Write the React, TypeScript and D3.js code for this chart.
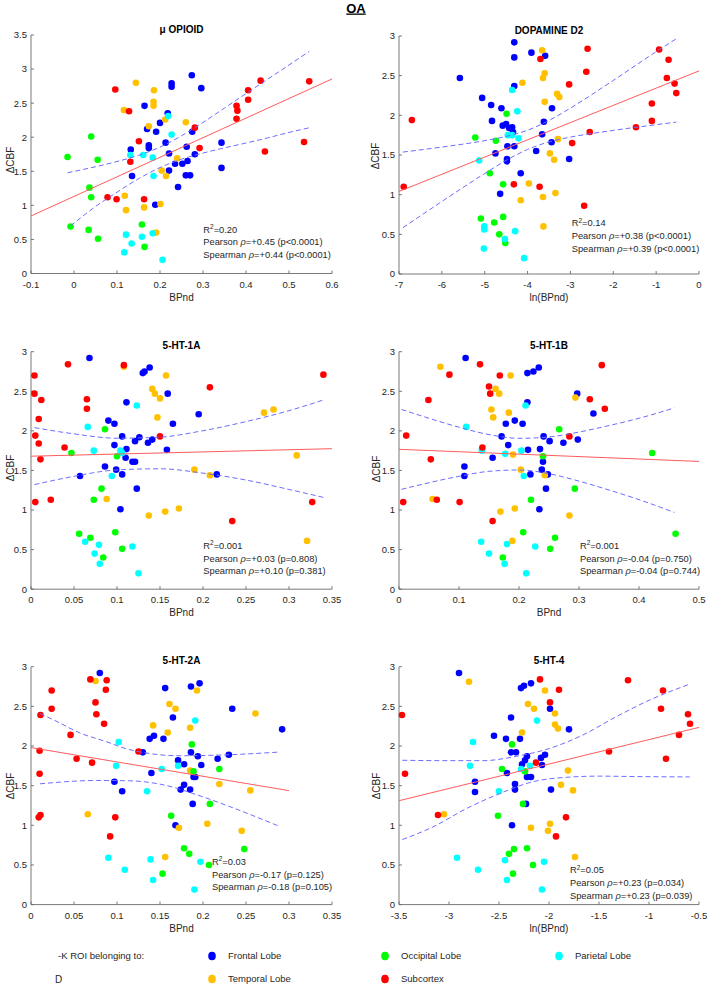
import React from 'react';
import * as d3 from 'd3';

type Pt = [number, number, string];
type XY = [number, number];

// ---------- groups / legend ----------
const groupCodes = ['F', 'T', 'O', 'P', 'S'];
const groupNames = ['Frontal Lobe', 'Temporal Lobe', 'Occipital Lobe', 'Parietal Lobe', 'Subcortex'];
const groupColors = ['#0000ff', '#ffc000', '#00ff00', '#00ffff', '#ff0000'];

// ---------- panel texts ----------
const titles = ['\u03bc OPIOID', 'DOPAMINE D2', '5-HT-1A', '5-HT-1B', '5-HT-2A', '5-HT-4'];
const xLabels = ['BPnd', 'ln(BPnd)', 'BPnd', 'BPnd', 'BPnd', 'ln(BPnd)'];
const r2Values = ['0.20', '0.14', '0.001', '0.001', '0.03', '0.05'];
const pearsonValues = ['+0.45 (p<0.0001)', '+0.38 (p<0.0001)', '+0.03 (p=0.808)', '-0.04 (p=0.750)', '-0.17 (p=0.125)', '+0.23 (p=0.034)'];
const spearmanValues = ['+0.44 (p<0.0001)', '+0.39 (p<0.0001)', '+0.10 (p=0.381)', '-0.04 (p=0.744)', '-0.18 (p=0.105)', '+0.23 (p=0.039)'];

// ---------- axes ----------
const xDomains: XY[] = [[-0.1, 0.6], [-7, 0], [0, 0.35], [0, 0.5], [0, 0.35], [-3.5, -0.5]];
const xTickValues: number[][] = [
  [-0.1, 0, 0.1, 0.2, 0.3, 0.4, 0.5, 0.6],
  [-7, -6, -5, -4, -3, -2, -1, 0],
  [0, 0.05, 0.1, 0.15, 0.2, 0.25, 0.3, 0.35],
  [0, 0.1, 0.2, 0.3, 0.4, 0.5],
  [0, 0.05, 0.1, 0.15, 0.2, 0.25, 0.3, 0.35],
  [-3.5, -3, -2.5, -2, -1.5, -1, -0.5],
];
const yMaxes = [3.5, 3, 3, 3, 3, 3];
const yTicksTall = [0, 0.5, 1, 1.5, 2, 2.5, 3, 3.5];
const yTicksShort = [0, 0.5, 1, 1.5, 2, 2.5, 3];

// ---------- scatter data: [x, ΔCBF, group] ----------
const opioidPts: Pt[] = [
  [0.274, 2.91, 'F'], [0.227, 2.79, 'F'], [0.227, 2.74, 'F'], [0.296, 2.72, 'F'], [0.164, 2.46, 'F'], [0.218, 2.35, 'F'], [0.17, 2.12, 'F'], [0.2, 2.21, 'F'], [0.191, 2.08, 'F'], [0.275, 2.08, 'F'], [0.132, 1.82, 'F'], [0.174, 1.88, 'F'], [0.174, 1.84, 'F'], [0.213, 1.92, 'F'], [0.221, 1.76, 'F'], [0.262, 1.86, 'F'], [0.281, 1.75, 'F'], [0.343, 1.92, 'F'], [0.135, 1.43, 'F'], [0.221, 1.51, 'F'], [0.235, 1.61, 'F'], [0.252, 1.61, 'F'], [0.264, 1.65, 'F'], [0.26, 1.44, 'F'], [0.27, 1.44, 'F'], [0.242, 1.27, 'F'], [0.343, 1.55, 'F'], [0.189, 1.01, 'F'],
  [0.144, 2.8, 'T'], [0.116, 2.4, 'T'], [0.186, 2.69, 'T'], [0.185, 2.52, 'T'], [0.185, 2.46, 'T'], [0.212, 2.26, 'T'], [0.174, 2.16, 'T'], [0.26, 2.22, 'T'], [0.24, 1.69, 'T'], [0.204, 1.51, 'T'], [0.214, 1.43, 'T'], [0.118, 1.14, 'T'], [0.121, 0.93, 'T'], [0.163, 0.97, 'T'], [0.201, 1.02, 'T'], [0.191, 0.6, 'T'],
  [-0.015, 1.71, 'O'], [0.04, 2.01, 'O'], [0.055, 1.67, 'O'], [0.036, 1.26, 'O'], [0.04, 1.12, 'O'], [-0.008, 0.69, 'O'], [0.034, 0.64, 'O'], [0.056, 0.51, 'O'], [0.158, 0.72, 'O'], [0.164, 0.39, 'O'],
  [0.131, 1.74, 'P'], [0.161, 1.74, 'P'], [0.183, 1.7, 'P'], [0.219, 2.31, 'P'], [0.227, 2.04, 'P'], [0.185, 1.43, 'P'], [0.121, 0.57, 'P'], [0.158, 0.54, 'P'], [0.183, 0.59, 'P'], [0.134, 0.44, 'P'], [0.117, 0.31, 'P'], [0.206, 0.2, 'P'],
  [0.096, 2.7, 'S'], [0.128, 2.38, 'S'], [0.151, 1.94, 'S'], [0.131, 1.64, 'S'], [0.078, 1.12, 'S'], [0.099, 1.09, 'S'], [0.163, 1.09, 'S'], [0.281, 2.14, 'S'], [0.292, 1.84, 'S'], [0.378, 2.46, 'S'], [0.38, 2.39, 'S'], [0.378, 2.27, 'S'], [0.405, 2.69, 'S'], [0.405, 2.55, 'S'], [0.434, 2.83, 'S'], [0.444, 1.79, 'S'], [0.535, 1.93, 'S'], [0.547, 2.82, 'S'],
];

const d2Pts: Pt[] = [
  [-4.31, 2.92, 'F'], [-3.91, 2.79, 'F'], [-4.31, 2.73, 'F'], [-3.59, 2.75, 'F'], [-5.58, 2.47, 'F'], [-4.31, 2.37, 'F'], [-5.06, 2.22, 'F'], [-4.85, 2.13, 'F'], [-4.61, 2.09, 'F'], [-3.43, 2.09, 'F'], [-4.83, 1.93, 'F'], [-4.58, 1.87, 'F'], [-4.5, 1.89, 'F'], [-4.43, 1.84, 'F'], [-4.36, 1.85, 'F'], [-4.34, 1.79, 'F'], [-3.62, 1.92, 'F'], [-3.66, 1.76, 'F'], [-3.44, 1.66, 'F'], [-4.75, 1.52, 'F'], [-4.47, 1.61, 'F'], [-4.31, 1.61, 'F'], [-3.8, 1.55, 'F'], [-4.48, 1.45, 'F'], [-4.48, 1.42, 'F'], [-3.03, 1.45, 'F'], [-4.16, 1.27, 'F'], [-4.64, 1.01, 'F'],
  [-3.66, 2.82, 'T'], [-4.12, 2.41, 'T'], [-3.64, 2.47, 'T'], [-3.6, 2.53, 'T'], [-3.6, 2.17, 'T'], [-3.31, 2.27, 'T'], [-3.26, 2.23, 'T'], [-3.29, 1.7, 'T'], [-3.48, 1.52, 'T'], [-3.38, 1.44, 'T'], [-3.97, 1.14, 'T'], [-4.16, 0.93, 'T'], [-3.64, 0.97, 'T'], [-3.35, 1.02, 'T'], [-3.63, 0.6, 'T'],
  [-4.49, 2.02, 'O'], [-5.22, 1.72, 'O'], [-4.74, 1.68, 'O'], [-4.88, 1.27, 'O'], [-4.57, 1.13, 'O'], [-5.09, 0.7, 'O'], [-4.78, 0.65, 'O'], [-4.57, 0.72, 'O'], [-4.66, 0.5, 'O'], [-4.52, 0.39, 'O'],
  [-4.36, 2.32, 'P'], [-4.24, 2.05, 'P'], [-4.46, 1.75, 'P'], [-4.36, 1.75, 'P'], [-4.21, 1.71, 'P'], [-5.13, 1.43, 'P'], [-5.01, 0.6, 'P'], [-5.01, 0.56, 'P'], [-4.53, 0.44, 'P'], [-4.29, 0.54, 'P'], [-5.02, 0.32, 'P'], [-4.08, 0.2, 'P'],
  [-6.89, 1.1, 'S'], [-6.7, 1.94, 'S'], [-3.7, 2.71, 'S'], [-2.6, 2.84, 'S'], [-2.63, 2.55, 'S'], [-3.03, 2.39, 'S'], [-2.96, 1.65, 'S'], [-2.55, 1.79, 'S'], [-4.32, 1.13, 'S'], [-3.72, 1.1, 'S'], [-2.68, 0.86, 'S'], [-1.47, 1.85, 'S'], [-1.1, 1.93, 'S'], [-1.1, 2.15, 'S'], [-0.93, 2.83, 'S'], [-0.71, 2.7, 'S'], [-0.75, 2.47, 'S'], [-0.57, 2.4, 'S'], [-0.53, 2.28, 'S'],
];

const ht1aPts: Pt[] = [
  [0.068, 2.92, 'F'], [0.138, 2.8, 'F'], [0.132, 2.75, 'F'], [0.13, 2.73, 'F'], [0.111, 2.36, 'F'], [0.159, 2.47, 'F'], [0.195, 2.21, 'F'], [0.165, 2.09, 'F'], [0.09, 2.13, 'F'], [0.097, 2.09, 'F'], [0.106, 1.93, 'F'], [0.126, 1.92, 'F'], [0.121, 1.87, 'F'], [0.141, 1.89, 'F'], [0.136, 1.85, 'F'], [0.097, 1.82, 'F'], [0.111, 1.77, 'F'], [0.158, 1.76, 'F'], [0.11, 1.66, 'F'], [0.118, 1.61, 'F'], [0.121, 1.61, 'F'], [0.086, 1.55, 'F'], [0.099, 1.51, 'F'], [0.057, 1.43, 'F'], [0.106, 1.45, 'F'], [0.216, 1.45, 'F'], [0.123, 1.27, 'F'], [0.104, 1.01, 'F'],
  [0.108, 2.81, 'T'], [0.157, 2.7, 'T'], [0.141, 2.53, 'T'], [0.144, 2.47, 'T'], [0.15, 2.41, 'T'], [0.147, 2.17, 'T'], [0.271, 2.23, 'T'], [0.282, 2.27, 'T'], [0.309, 1.69, 'T'], [0.19, 1.51, 'T'], [0.208, 1.44, 'T'], [0.088, 1.14, 'T'], [0.137, 0.93, 'T'], [0.156, 0.98, 'T'], [0.172, 1.02, 'T'], [0.321, 0.61, 'T'],
  [0.086, 2.02, 'O'], [0.047, 1.72, 'O'], [0.1, 1.68, 'O'], [0.082, 1.27, 'O'], [0.073, 1.13, 'O'], [0.056, 0.7, 'O'], [0.069, 0.65, 'O'], [0.098, 0.72, 'O'], [0.106, 0.51, 'O'], [0.084, 0.4, 'O'],
  [0.123, 2.32, 'P'], [0.066, 2.05, 'P'], [0.073, 1.75, 'P'], [0.104, 1.75, 'P'], [0.106, 1.72, 'P'], [0.094, 1.43, 'P'], [0.063, 0.6, 'P'], [0.079, 0.56, 'P'], [0.074, 0.45, 'P'], [0.08, 0.32, 'P'], [0.118, 0.54, 'P'], [0.125, 0.2, 'P'],
  [0.004, 2.7, 'S'], [0.004, 2.47, 'S'], [0.012, 2.39, 'S'], [0.009, 2.15, 'S'], [0.005, 1.94, 'S'], [0.009, 1.84, 'S'], [0.011, 1.64, 'S'], [0.005, 1.1, 'S'], [0.023, 1.13, 'S'], [0.043, 2.84, 'S'], [0.065, 2.4, 'S'], [0.065, 2.28, 'S'], [0.039, 1.79, 'S'], [0.108, 2.83, 'S'], [0.15, 1.93, 'S'], [0.208, 2.55, 'S'], [0.234, 0.86, 'S'], [0.327, 1.1, 'S'], [0.34, 2.71, 'S'],
];

const ht1bPts: Pt[] = [
  [0.111, 2.92, 'F'], [0.233, 2.8, 'F'], [0.224, 2.75, 'F'], [0.214, 2.73, 'F'], [0.214, 2.36, 'F'], [0.297, 2.47, 'F'], [0.324, 2.22, 'F'], [0.178, 2.09, 'F'], [0.193, 2.13, 'F'], [0.206, 2.09, 'F'], [0.171, 1.93, 'F'], [0.241, 1.93, 'F'], [0.251, 1.87, 'F'], [0.274, 1.85, 'F'], [0.298, 1.89, 'F'], [0.182, 1.82, 'F'], [0.235, 1.77, 'F'], [0.215, 1.76, 'F'], [0.156, 1.66, 'F'], [0.24, 1.61, 'F'], [0.238, 1.51, 'F'], [0.109, 1.55, 'F'], [0.109, 1.43, 'F'], [0.219, 1.45, 'F'], [0.248, 1.45, 'F'], [0.245, 1.27, 'F'], [0.234, 1.01, 'F'],
  [0.069, 2.81, 'T'], [0.186, 2.7, 'T'], [0.161, 2.53, 'T'], [0.167, 2.47, 'T'], [0.294, 2.42, 'T'], [0.154, 2.27, 'T'], [0.183, 2.23, 'T'], [0.157, 2.17, 'T'], [0.19, 1.7, 'T'], [0.203, 1.51, 'T'], [0.243, 1.44, 'T'], [0.056, 1.14, 'T'], [0.169, 0.98, 'T'], [0.193, 1.02, 'T'], [0.284, 0.93, 'T'], [0.189, 0.61, 'T'],
  [0.267, 2.02, 'O'], [0.422, 1.72, 'O'], [0.24, 1.68, 'O'], [0.293, 1.27, 'O'], [0.22, 1.13, 'O'], [0.461, 0.7, 'O'], [0.207, 0.72, 'O'], [0.26, 0.65, 'O'], [0.252, 0.51, 'O'], [0.173, 0.4, 'O'],
  [0.211, 2.32, 'P'], [0.112, 2.05, 'P'], [0.138, 1.75, 'P'], [0.204, 1.75, 'P'], [0.177, 1.71, 'P'], [0.208, 1.43, 'P'], [0.137, 0.6, 'P'], [0.18, 0.57, 'P'], [0.15, 0.45, 'P'], [0.227, 0.54, 'P'], [0.176, 0.32, 'P'], [0.212, 0.2, 'P'],
  [0.135, 2.84, 'S'], [0.084, 2.71, 'S'], [0.168, 2.7, 'S'], [0.15, 2.56, 'S'], [0.152, 2.47, 'S'], [0.049, 2.39, 'S'], [0.318, 2.4, 'S'], [0.338, 2.83, 'S'], [0.343, 2.28, 'S'], [0.012, 1.94, 'S'], [0.284, 1.93, 'S'], [0.139, 1.79, 'S'], [0.053, 1.64, 'S'], [0.007, 1.1, 'S'], [0.063, 1.13, 'S'], [0.101, 1.1, 'S'], [0.156, 0.86, 'S'],
];

const ht2aPts: Pt[] = [
  [0.08, 2.92, 'F'], [0.196, 2.79, 'F'], [0.186, 2.75, 'F'], [0.156, 2.73, 'F'], [0.234, 2.47, 'F'], [0.165, 2.36, 'F'], [0.292, 2.21, 'F'], [0.143, 2.13, 'F'], [0.138, 2.09, 'F'], [0.154, 2.09, 'F'], [0.186, 1.92, 'F'], [0.13, 1.92, 'F'], [0.194, 1.87, 'F'], [0.217, 1.84, 'F'], [0.23, 1.89, 'F'], [0.171, 1.82, 'F'], [0.178, 1.77, 'F'], [0.198, 1.76, 'F'], [0.14, 1.66, 'F'], [0.189, 1.61, 'F'], [0.191, 1.61, 'F'], [0.097, 1.55, 'F'], [0.178, 1.51, 'F'], [0.106, 1.43, 'F'], [0.174, 1.45, 'F'], [0.185, 1.45, 'F'], [0.188, 1.27, 'F'], [0.168, 1.0, 'F'],
  [0.075, 2.82, 'T'], [0.193, 2.7, 'T'], [0.161, 2.53, 'T'], [0.168, 2.47, 'T'], [0.261, 2.41, 'T'], [0.142, 2.26, 'T'], [0.159, 2.17, 'T'], [0.185, 2.23, 'T'], [0.185, 1.69, 'T'], [0.219, 1.52, 'T'], [0.255, 1.44, 'T'], [0.066, 1.14, 'T'], [0.172, 0.97, 'T'], [0.205, 1.02, 'T'], [0.245, 0.93, 'T'], [0.156, 0.6, 'T'],
  [0.187, 2.02, 'O'], [0.219, 1.71, 'O'], [0.189, 1.68, 'O'], [0.208, 1.27, 'O'], [0.163, 1.12, 'O'], [0.248, 0.7, 'O'], [0.178, 0.71, 'O'], [0.184, 0.64, 'O'], [0.207, 0.5, 'O'], [0.153, 0.39, 'O'],
  [0.191, 2.32, 'P'], [0.102, 2.05, 'P'], [0.099, 1.75, 'P'], [0.152, 1.71, 'P'], [0.171, 1.75, 'P'], [0.135, 1.43, 'P'], [0.09, 0.59, 'P'], [0.139, 0.57, 'P'], [0.197, 0.54, 'P'], [0.109, 0.44, 'P'], [0.142, 0.31, 'P'], [0.19, 0.19, 'P'],
  [0.069, 2.84, 'S'], [0.088, 2.83, 'S'], [0.024, 2.7, 'S'], [0.087, 2.71, 'S'], [0.024, 2.47, 'S'], [0.075, 2.55, 'S'], [0.076, 2.4, 'S'], [0.011, 2.39, 'S'], [0.085, 2.28, 'S'], [0.046, 2.14, 'S'], [0.01, 1.94, 'S'], [0.125, 1.93, 'S'], [0.053, 1.84, 'S'], [0.071, 1.79, 'S'], [0.01, 1.65, 'S'], [0.011, 1.13, 'S'], [0.009, 1.1, 'S'], [0.098, 1.1, 'S'], [0.092, 0.86, 'S'],
];

const ht4Pts: Pt[] = [
  [-2.9, 2.92, 'F'], [-2.18, 2.79, 'F'], [-2.25, 2.76, 'F'], [-2.28, 2.73, 'F'], [-1.99, 2.47, 'F'], [-2.38, 2.36, 'F'], [-1.8, 2.21, 'F'], [-2.55, 2.13, 'F'], [-2.43, 2.09, 'F'], [-2.29, 2.09, 'F'], [-2.38, 1.92, 'F'], [-2.33, 1.92, 'F'], [-2.04, 1.89, 'F'], [-2.08, 1.85, 'F'], [-2.22, 1.87, 'F'], [-2.24, 1.82, 'F'], [-2.27, 1.77, 'F'], [-2.07, 1.76, 'F'], [-2.42, 1.66, 'F'], [-2.22, 1.61, 'F'], [-2.18, 1.61, 'F'], [-2.74, 1.55, 'F'], [-2.34, 1.52, 'F'], [-2.74, 1.42, 'F'], [-2.34, 1.45, 'F'], [-1.98, 1.45, 'F'], [-2.23, 1.27, 'F'], [-2.37, 1.0, 'F'],
  [-2.8, 2.81, 'T'], [-2.04, 2.7, 'T'], [-2.21, 2.53, 'T'], [-2.15, 2.47, 'T'], [-1.94, 2.41, 'T'], [-1.94, 2.27, 'T'], [-1.91, 2.22, 'T'], [-2.27, 2.17, 'T'], [-1.81, 1.69, 'T'], [-1.88, 1.51, 'T'], [-1.76, 1.44, 'T'], [-3.05, 1.14, 'T'], [-2.18, 0.97, 'T'], [-1.99, 1.02, 'T'], [-2.01, 0.93, 'T'], [-1.74, 0.6, 'T'],
  [-2.37, 2.02, 'O'], [-2.47, 1.71, 'O'], [-2.24, 1.68, 'O'], [-2.26, 1.27, 'O'], [-2.51, 1.12, 'O'], [-2.35, 0.7, 'O'], [-2.22, 0.71, 'O'], [-2.4, 0.64, 'O'], [-2.16, 0.5, 'O'], [-2.36, 0.39, 'O'],
  [-2.12, 2.32, 'P'], [-2.76, 2.05, 'P'], [-2.79, 1.75, 'P'], [-2.28, 1.71, 'P'], [-2.19, 1.75, 'P'], [-2.5, 1.43, 'P'], [-2.92, 0.59, 'P'], [-2.44, 0.56, 'P'], [-2.05, 0.54, 'P'], [-2.71, 0.44, 'P'], [-2.42, 0.31, 'P'], [-2.07, 0.19, 'P'],
  [-2.09, 2.84, 'S'], [-1.21, 2.83, 'S'], [-1.9, 2.71, 'S'], [-0.86, 2.7, 'S'], [-1.99, 2.55, 'S'], [-0.88, 2.47, 'S'], [-3.47, 2.39, 'S'], [-0.61, 2.4, 'S'], [-0.59, 2.28, 'S'], [-0.7, 2.14, 'S'], [-1.4, 1.93, 'S'], [-0.83, 1.84, 'S'], [-2.13, 1.79, 'S'], [-3.44, 1.65, 'S'], [-3.11, 1.13, 'S'], [-1.83, 1.1, 'S'], [-1.93, 0.86, 'S'],
];

// ---------- regression lines (endpoints) ----------
const fitLines: XY[][] = [
  [[-0.1, 0.844], [0.6, 2.855]],
  [[-7, 1.04], [0, 2.56]],
  [[0, 1.68], [0.35, 1.775]],
  [[0, 1.767], [0.5, 1.614]],
  [[0, 1.98], [0.3, 1.437]],
  [[-3.5, 1.31], [-0.5, 2.235]],
];

// ---------- confidence bands (dashed) ----------
const ciUpper: XY[][] = [
  [[-0.015, 1.478], [0.05, 1.567], [0.1, 1.643], [0.15, 1.734], [0.2, 1.855], [0.25, 2.021], [0.3, 2.217], [0.35, 2.428], [0.4, 2.64], [0.45, 2.85], [0.5, 3.06], [0.547, 3.26]],
  [[-6.91, 1.537], [-6, 1.6], [-5, 1.681], [-4.5, 1.734], [-4, 1.812], [-3.5, 1.935], [-3, 2.091], [-2, 2.44], [-1, 2.802], [-0.53, 2.965]],
  [[0.004, 2.041], [0.05, 1.962], [0.1, 1.907], [0.15, 1.921], [0.2, 2.002], [0.25, 2.117], [0.3, 2.255], [0.34, 2.39]],
  [[0.004, 2.271], [0.05, 2.159], [0.1, 2.046], [0.15, 1.953], [0.2, 1.906], [0.25, 1.923], [0.3, 1.985], [0.35, 2.067], [0.4, 2.159], [0.459, 2.29]],
  [[0.0105, 2.41], [0.028, 2.32], [0.057, 2.164], [0.086, 2.06], [0.115, 1.953], [0.173, 1.877], [0.231, 1.89], [0.2895, 1.924]],
  [[-3.467, 1.82], [-3.0, 1.815], [-2.66, 1.815], [-2.327, 1.87], [-1.993, 1.97], [-1.66, 2.14], [-1.327, 2.37], [-0.993, 2.58], [-0.593, 2.78]],
];
const ciLower: XY[][] = [
  [[-0.008, 0.698], [0.05, 0.983], [0.1, 1.193], [0.15, 1.39], [0.2, 1.555], [0.25, 1.677], [0.3, 1.767], [0.35, 1.844], [0.4, 1.915], [0.45, 1.99], [0.5, 2.07], [0.548, 2.14]],
  [[-6.91, 0.583], [-6, 0.914], [-5, 1.267], [-4.5, 1.432], [-4, 1.57], [-3.5, 1.665], [-3, 1.725], [-2, 1.81], [-1, 1.882], [-0.53, 1.915]],
  [[0.004, 1.321], [0.05, 1.426], [0.1, 1.507], [0.15, 1.521], [0.2, 1.466], [0.25, 1.379], [0.3, 1.26], [0.34, 1.16]],
  [[0.004, 1.261], [0.05, 1.345], [0.1, 1.426], [0.15, 1.489], [0.2, 1.506], [0.25, 1.459], [0.3, 1.365], [0.35, 1.253], [0.4, 1.131], [0.459, 0.97]],
  [[0.0105, 1.523], [0.076, 1.565], [0.115, 1.561], [0.154, 1.51], [0.193, 1.384], [0.231, 1.236], [0.2895, 0.984]],
  [[-3.467, 0.82], [-3.16, 0.98], [-2.827, 1.21], [-2.493, 1.4], [-2.16, 1.55], [-1.827, 1.605], [-1.493, 1.62], [-1.16, 1.615], [-0.593, 1.61]],
];

const panelPoints: Pt[][] = [opioidPts, d2Pts, ht1aPts, ht1bPts, ht2aPts, ht4Pts];

// ---------- layout (pixels) ----------
const LAYOUT = [
  { left: 31, right: 332, top: 35, bottom: 273.5, statX: 203.3, statY: [232.5, 245.3, 258.1], yLabelX: 11, yLabelY: 160 },
  { left: 399, right: 699, top: 36, bottom: 274, statX: 571.7, statY: [226.4, 239.2, 252], yLabelX: 376, yLabelY: 156 },
  { left: 31, right: 332, top: 351.7, bottom: 589.2, statX: 203.3, statY: [548.8, 561.6, 574.4], yLabelX: 11, yLabelY: 468 },
  { left: 399, right: 699, top: 351.7, bottom: 589.2, statX: 580, statY: [548.8, 561.6, 574.4], yLabelX: 377, yLabelY: 469 },
  { left: 31, right: 332, top: 666.7, bottom: 904.6, statX: 212, statY: [864.8, 877.6, 890.4], yLabelX: 11, yLabelY: 786 },
  { left: 399, right: 699, top: 666.7, bottom: 904.6, statX: 570, statY: [873.4, 886.2, 899], yLabelX: 377, yLabelY: 786 },
];

const FONT = '"Liberation Sans", Arial, Helvetica, sans-serif';
const AXIS_COLOR = '#6a6a6a';
const TEXT_COLOR = '#262626';

function Panel({ i }: { i: number }) {
  const L = LAYOUT[i];
  const x = d3.scaleLinear().domain(xDomains[i]).range([L.left, L.right]);
  const y = d3.scaleLinear().domain([0, yMaxes[i]]).range([L.bottom, L.top]);
  const straight = d3.line<XY>().x(d => x(d[0])).y(d => y(d[1]));
  const smooth = d3.line<XY>().x(d => x(d[0])).y(d => y(d[1])).curve(d3.curveMonotoneX);
  const yTicks = yMaxes[i] > 3 ? yTicksTall : yTicksShort;
  const pts = [...panelPoints[i]].sort((a, b) => groupCodes.indexOf(a[2]) - groupCodes.indexOf(b[2]));
  const tickLen = 3;
  return (
    <g>
      {/* title */}
      <text x={(L.left + L.right) / 2} y={L.top - 2.5} textAnchor="middle" fontSize={10} fontWeight="bold" fill="#000">{titles[i]}</text>
      {/* axes */}
      <line x1={L.left} x2={L.right} y1={L.bottom} y2={L.bottom} stroke={AXIS_COLOR} strokeWidth={0.9} />
      <line x1={L.left} x2={L.left} y1={L.bottom} y2={L.top} stroke={AXIS_COLOR} strokeWidth={0.9} />
      {xTickValues[i].map(v => (
        <g key={'xt' + v}>
          <line x1={x(v)} x2={x(v)} y1={L.bottom} y2={L.bottom - tickLen} stroke={AXIS_COLOR} strokeWidth={0.9} />
          <text x={x(v)} y={L.bottom + 14} textAnchor="middle" fontSize={9.5} fill={TEXT_COLOR}>{String(v)}</text>
        </g>
      ))}
      {yTicks.map(v => (
        <g key={'yt' + v}>
          <line x1={L.left} x2={L.left + tickLen} y1={y(v)} y2={y(v)} stroke={AXIS_COLOR} strokeWidth={0.9} />
          <text x={L.left - 4} y={y(v) + 3.4} textAnchor="end" fontSize={9.5} fill={TEXT_COLOR}>{String(v)}</text>
        </g>
      ))}
      <text x={(L.left + L.right) / 2} y={L.bottom + 27} textAnchor="middle" fontSize={10} fill={TEXT_COLOR}>{xLabels[i]}</text>
      <text transform={`translate(${L.yLabelX},${L.yLabelY}) rotate(-90)`} textAnchor="middle" dominantBaseline="middle" fontSize={10} fill={TEXT_COLOR}>{'\u0394CBF'}</text>
      {/* points */}
      {pts.map((p, k) => (
        <circle key={k} cx={x(p[0])} cy={y(p[1])} r={3.3} fill={groupColors[groupCodes.indexOf(p[2])]} />
      ))}
      {/* fit & CI */}
      <path d={straight(fitLines[i]) || ''} fill="none" stroke="#ff5c5c" strokeWidth={1} />
      <path d={smooth(ciUpper[i]) || ''} fill="none" stroke="#6d6dff" strokeWidth={1} strokeDasharray="5,3" />
      <path d={smooth(ciLower[i]) || ''} fill="none" stroke="#6d6dff" strokeWidth={1} strokeDasharray="5,3" />
      {/* stats */}
      <text x={L.statX} y={L.statY[0]} fontSize={9.3} fill={TEXT_COLOR}>R<tspan dy={-3.6} fontSize={6.5}>2</tspan><tspan dy={3.6}>={r2Values[i]}</tspan></text>
      <text x={L.statX} y={L.statY[1]} fontSize={9.3} fill={TEXT_COLOR}>Pearson <tspan fontStyle="italic">{'\u03c1'}</tspan>={pearsonValues[i]}</text>
      <text x={L.statX} y={L.statY[2]} fontSize={9.3} fill={TEXT_COLOR}>Spearman <tspan fontStyle="italic">{'\u03c1'}</tspan>={spearmanValues[i]}</text>
    </g>
  );
}

const legendOrder = ['F', 'O', 'P', 'T', 'S'];
const legendCols = [212, 385, 559];
const legendRows = [956, 979];

export default function App() {
  return (
    <svg width={709} height={986} style={{ position: 'absolute', left: 0, top: 0, background: '#fff' }} fontFamily={FONT}>
      <rect x={0} y={0} width={709} height={986} fill="#fff" />
      <text x={356} y={12.5} textAnchor="middle" fontSize={13} fontWeight="bold" fill="#000" style={{ textDecoration: 'underline' }}>OA</text>
      {[0, 1, 2, 3, 4, 5].map(i => <Panel key={i} i={i} />)}
      {/* legend */}
      <text x={58} y={legendRows[0] + 3.4} fontSize={9.5} fill={TEXT_COLOR}>-K ROI belonging to:</text>
      <text x={55} y={legendRows[1] + 3.8} fontSize={10} fill={TEXT_COLOR}>D</text>
      {legendOrder.map((code, k) => {
        const gi = groupCodes.indexOf(code);
        const cx = legendCols[k % 3];
        const cy = legendRows[Math.floor(k / 3)];
        return (
          <g key={code}>
            <ellipse cx={cx} cy={cy} rx={3.8} ry={4.3} fill={groupColors[gi]} />
            <text x={cx + 16} y={cy + 3.4} fontSize={9.5} fill={TEXT_COLOR}>{groupNames[gi]}</text>
          </g>
        );
      })}
    </svg>
  );
}
